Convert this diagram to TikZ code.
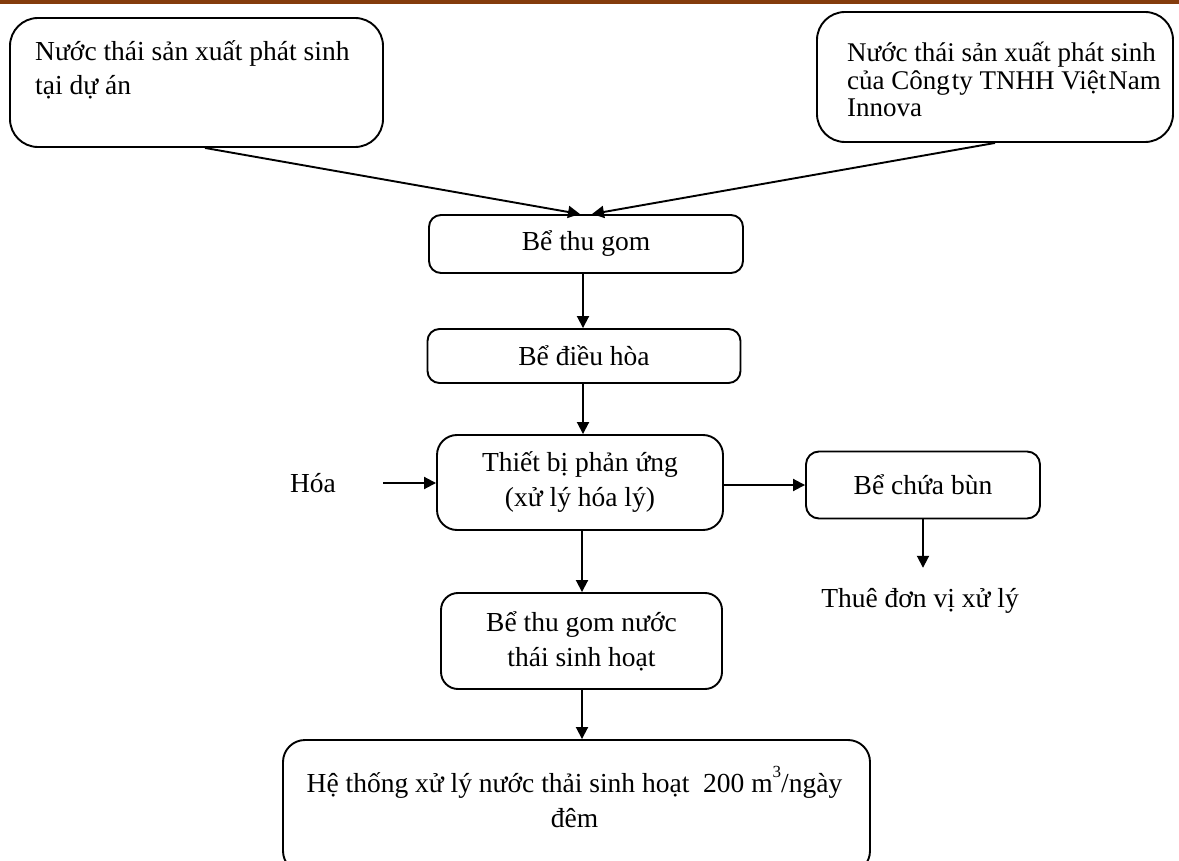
\documentclass[tikz,border=0pt]{standalone}
\usepackage{fontspec}
\setmainfont{Liberation Serif}
\usetikzlibrary{arrows.meta}
\definecolor{topbar}{HTML}{843C0C}
\begin{document}
\begin{tikzpicture}[x=1pt,y=-1pt,
  every node/.style={font=\fontsize{27.5}{35}\selectfont},
  box/.style={draw, line width=1.9pt, inner sep=0pt, align=center},
  arr/.style={-{Triangle[length=12pt,width=12pt]}, line width=1.9pt}]
\useasboundingbox (0,0) rectangle (1179,861);
\fill[topbar] (0,0) rectangle (1179,4);
% boxes
\node[box, rounded corners=28pt, minimum width=373pt, minimum height=129pt] (b1) at (196.5,82.5) {};
\node[anchor=base west, align=left, inner sep=0pt, font=\fontsize{27.5}{34}\selectfont] (t1) at (35,95) {Nước thái sản xuất phát sinh\\tại dự án};
\node[box, rounded corners=28pt, minimum width=356pt, minimum height=130pt] (b2) at (995,77) {};
\node[anchor=base west, align=left, inner sep=0pt, font=\fontsize{27}{27.5}\selectfont] (t2) at (847,117) {Nước thái sản xuất phát sinh\\của Công\hspace{2pt}ty TNHH Việt\hspace{2pt}Nam\\Innova};
\node[box, rounded corners=12pt, minimum width=314pt, minimum height=58pt] (thu) at (586,244) {Bể thu gom};
\node[box, rounded corners=12pt, minimum width=313pt, minimum height=54pt] (dh) at (584,356) {Bể điều hòa};
\node[box, rounded corners=20pt, minimum width=286pt, minimum height=95pt] (tb) at (580,482.5) {Thiết bị phản ứng\\(xử lý hóa lý)};
\node[box, rounded corners=13pt, minimum width=234pt, minimum height=67pt] (bun) at (923,485) {Bể chứa bùn};
\node[box, rounded corners=17pt, minimum width=281pt, minimum height=96pt] (gom) at (581.5,641) {Bể thu gom nước\\thái sinh hoạt};
\node[box, rounded corners=22pt, minimum width=587pt, minimum height=133pt] (ht) at (576.5,806.5) {};
\node[anchor=center, align=center, inner sep=0pt] (tht) at (574.5,797) {Hệ thống xử lý nước thải sinh hoạt\ \ 200 m\raisebox{0.55em}{\fontsize{17}{17}\selectfont 3}/ngày\\đêm};
\node[inner sep=0pt] (hoa) at (313,483) {Hóa};
\node[anchor=base, inner sep=0pt, text height=19pt, text depth=6pt] (thue) at (920,607) {Thuê đơn vị xử lý};
\coordinate (hs) at (383,483);
% connectors
\draw[arr] ([xshift=8.5pt]b1.south) -- ([xshift=-6pt]thu.north);
\draw[arr] (b2.south) -- ([xshift=6pt]thu.north);
\draw[arr] ([xshift=-3pt]thu.south) -- ([xshift=-3pt]thu.south |- dh.north);
\draw[arr] ([xshift=-1pt]dh.south) -- ([xshift=-1pt]dh.south |- tb.north);
\draw[arr] (hs) -- (hs -| tb.west);
\draw[arr] (tb.east |- bun.west) -- (bun.west);
\draw[arr] (bun.south) -- ([yshift=20pt]thue.north -| bun.south);
\draw[arr] ([xshift=2pt]tb.south) -- ([xshift=2pt]tb.south |- gom.north);
\draw[arr] ([xshift=0.5pt]gom.south) -- ([xshift=0.5pt]gom.south |- ht.north);
\end{tikzpicture}
\end{document}
